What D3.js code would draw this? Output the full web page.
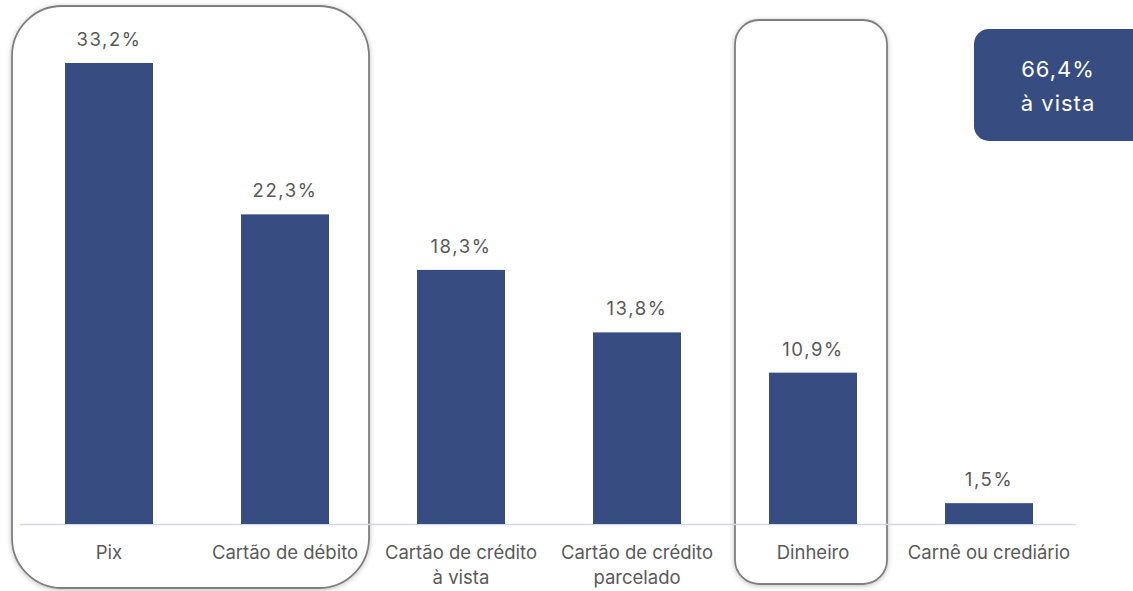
<!DOCTYPE html>
<html>
<head>
<meta charset="utf-8">
<script src="https://cdn.jsdelivr.net/npm/d3@7"></script>
<style>
  body { margin: 0; background: #fff; }
  svg text { font-family: Inter, "Open Sans", sans-serif; }
</style>
</head>
<body>
<div id="chart"></div>
<script>
// data
const categories = ["Pix", "Cartão de débito", "Cartão de crédito\nà vista", "Cartão de crédito\nparcelado", "Dinheiro", "Carnê ou crediário"];
const values = [33.2, 22.3, 18.3, 13.8, 10.9, 1.5];
const highlightGroups = [["Pix", "Cartão de débito"], ["Dinheiro"]];
const calloutLines = ["66,4%", "à vista"];

const width = 1133, height = 591;
const fmt = v => d3.format(".1f")(v).replace(".", ",") + "%";

const svg = d3.select("#chart").append("svg")
    .attr("width", width)
    .attr("height", height);

const defs = svg.append("defs");
const shadow = defs.append("filter").attr("id", "shadow")
    .attr("x", "-10%").attr("y", "-10%").attr("width", "120%").attr("height", "120%");
shadow.append("feDropShadow")
    .attr("dx", 0).attr("dy", 1)
    .attr("stdDeviation", 2.5)
    .attr("flood-color", "#000")
    .attr("flood-opacity", 0.25);

const x = d3.scaleBand()
    .domain(categories)
    .range([21, 1077])
    .paddingInner(0.5)
    .paddingOuter(0.25);

const y = d3.scaleLinear()
    .domain([0, d3.max(values)])
    .range([524, 63]);

// highlight boxes (behind bars)
const boxes = [
    { group: highlightGroups[0], x0: 12, x1: 369, y0: 6, y1: 588, r: 50 },
    { group: highlightGroups[1], x0: 735, x1: 887, y0: 20, y1: 584, r: 24 }
];
svg.append("g").selectAll("rect")
    .data(boxes)
    .join("rect")
    .attr("x", d => d.x0)
    .attr("y", d => d.y0)
    .attr("width", d => d.x1 - d.x0)
    .attr("height", d => d.y1 - d.y0)
    .attr("rx", d => d.r)
    .attr("fill", "#fff")
    .attr("stroke", "#7f7f7f")
    .attr("stroke-width", 1.8)
    .attr("filter", "url(#shadow)");

// baseline
svg.append("line")
    .attr("x1", 20).attr("x2", 1076)
    .attr("y1", y(0) + 0.5).attr("y2", y(0) + 0.5)
    .attr("stroke", "#d4d6ee")
    .attr("stroke-width", 1.5);

// bars
svg.append("g").selectAll("rect")
    .data(values)
    .join("rect")
    .attr("x", (d, i) => x(categories[i]))
    .attr("y", d => y(d))
    .attr("width", x.bandwidth())
    .attr("height", d => y(0) - y(d))
    .attr("fill", "#374c80");

// value labels
svg.append("g").selectAll("text")
    .data(values)
    .join("text")
    .attr("x", (d, i) => x(categories[i]) + x.bandwidth() / 2)
    .attr("y", d => y(d) - 17)
    .attr("text-anchor", "middle")
    .attr("font-size", 18.5)
    .attr("letter-spacing", 1.6)
    .attr("fill", "#595959")
    .text(d => fmt(d));

// category labels
const catLabels = svg.append("g").selectAll("text")
    .data(categories)
    .join("text")
    .attr("x", d => x(d) + x.bandwidth() / 2)
    .attr("y", 559)
    .attr("text-anchor", "middle")
    .attr("font-size", 18.5)
    .attr("fill", "#595959");
catLabels.selectAll("tspan")
    .data(d => d.split("\n"))
    .join("tspan")
    .attr("x", function () { return d3.select(this.parentNode).attr("x"); })
    .attr("dy", (d, i) => i === 0 ? 0 : 25)
    .text(d => d);

// callout
const callout = svg.append("g");
callout.append("rect")
    .attr("x", 974).attr("y", 29)
    .attr("width", 175).attr("height", 112)
    .attr("rx", 15)
    .attr("fill", "#374c80");
callout.selectAll("text")
    .data(calloutLines)
    .join("text")
    .attr("x", 1058)
    .attr("y", (d, i) => 77 + i * 34)
    .attr("text-anchor", "middle")
    .attr("font-size", 22)
    .attr("letter-spacing", 1)
    .attr("fill", "#fff")
    .text(d => d);
</script>
</body>
</html>
